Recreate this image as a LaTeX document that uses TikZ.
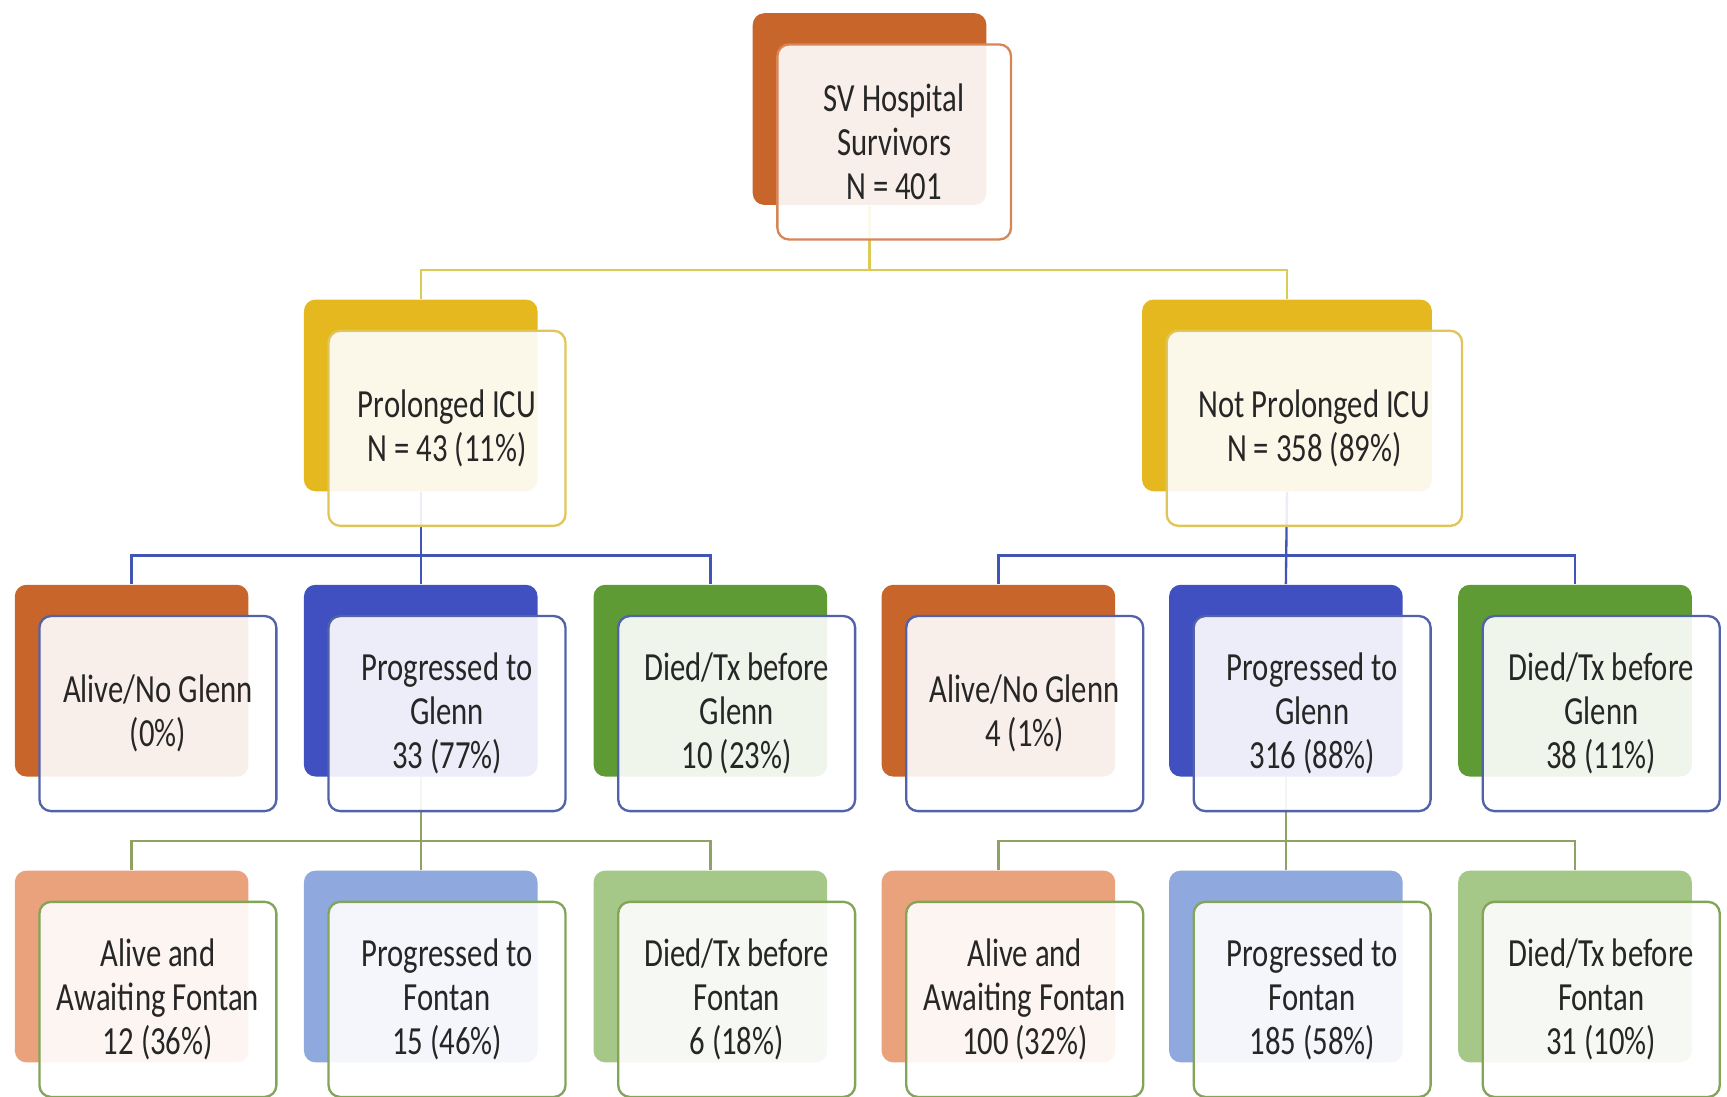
\documentclass[tikz,border=0pt]{standalone}
\usepackage{fontspec}
\setmainfont{Carlito}[FakeStretch=0.77]
\usepackage{tikz}
\usetikzlibrary{positioning, backgrounds, calc}
\definecolor{TextGray}{HTML}{262626}
\definecolor{RootOrange}{HTML}{C8652B}
\definecolor{RootLine}{HTML}{D68657}
\definecolor{GoldFill}{HTML}{E5B820}
\definecolor{GoldLine}{HTML}{E0C65A}
\definecolor{GoldLink}{HTML}{D9CB55}
\definecolor{GlennBlue}{HTML}{4050C0}
\definecolor{DiedGreen}{HTML}{5E9B35}
\definecolor{BlueLine}{HTML}{5262A8}
\definecolor{BlueLink}{HTML}{4055B5}
\definecolor{WaitOrange}{HTML}{E9A27C}
\definecolor{FontanBlue}{HTML}{8FA8DE}
\definecolor{DFontanGreen}{HTML}{A5C888}
\definecolor{GreenLine}{HTML}{82A558}
\definecolor{GreenLink}{HTML}{8EA262}

\tikzset{
  backbox/.style={rounded corners=3pt, inner sep=0pt,
    minimum width=2.12cm, minimum height=1.74cm},
  frontbox/.style={rounded corners=3pt, fill=white, fill opacity=0.9,
    text opacity=1, line width=0.6pt, inner sep=0pt,
    minimum width=2.15cm, minimum height=1.77cm, align=center,
    text=TextGray, font=\fontsize{10.3}{11.4}\selectfont},
  link/.style={line width=0.6pt}
}

\begin{document}
\begin{tikzpicture}[x=0.01cm, y=-0.01cm]
\useasboundingbox (0,0) rectangle (1568,996);

% root
\node[backbox, fill=RootOrange] (root-b) at (789.5,99) {};
\node[frontbox, draw=RootLine, minimum width=2.12cm,
      below right=0.28cm and 0.22cm of root-b.north west] (root)
      {SV Hospital\\Survivors\\N = 401};

% ICU split
\node[backbox, fill=GoldFill] (picu-b) at (382,359) {};
\node[frontbox, draw=GoldLine, below right=0.28cm and 0.22cm of picu-b.north west] (picu)
      {Prolonged ICU\\N = 43 (11\%)};
\node[backbox, fill=GoldFill, minimum width=2.63cm] (npicu-b) at (1168.5,359) {};
\node[frontbox, draw=GoldLine, minimum width=2.68cm,
      below right=0.28cm and 0.22cm of npicu-b.north west] (npicu)
      {Not Prolonged ICU\\N = 358 (89\%)};

% Glenn stage
\node[backbox, fill=RootOrange] (picu-alive-b) at (119.5,618) {};
\node[frontbox, draw=BlueLine, below right=0.28cm and 0.22cm of picu-alive-b.north west] (picu-alive)
      {Alive/No Glenn\\(0\%)};
\node[backbox, fill=GlennBlue] (picu-glenn-b) at (382,618) {};
\node[frontbox, draw=BlueLine, below right=0.28cm and 0.22cm of picu-glenn-b.north west] (picu-glenn)
      {Progressed to\\Glenn\\33 (77\%)};
\node[backbox, fill=DiedGreen] (picu-died-b) at (645,618) {};
\node[frontbox, draw=BlueLine, below right=0.28cm and 0.22cm of picu-died-b.north west] (picu-died)
      {Died/Tx before\\Glenn\\10 (23\%)};

\node[backbox, fill=RootOrange] (npicu-alive-b) at (906.5,618) {};
\node[frontbox, draw=BlueLine, below right=0.28cm and 0.22cm of npicu-alive-b.north west] (npicu-alive)
      {Alive/No Glenn\\4 (1\%)};
\node[backbox, fill=GlennBlue] (npicu-glenn-b) at (1167.5,618) {};
\node[frontbox, draw=BlueLine, below right=0.28cm and 0.22cm of npicu-glenn-b.north west] (npicu-glenn)
      {Progressed to\\Glenn\\316 (88\%)};
\node[backbox, fill=DiedGreen] (npicu-died-b) at (1430,618) {};
\node[frontbox, draw=BlueLine, below right=0.28cm and 0.22cm of npicu-died-b.north west] (npicu-died)
      {Died/Tx before\\Glenn\\38 (11\%)};

% Fontan stage
\node[backbox, fill=WaitOrange] (picu-wait-b) at (119.5,877.5) {};
\node[frontbox, draw=GreenLine, below right=0.28cm and 0.22cm of picu-wait-b.north west] (picu-wait)
      {Alive and\\Awaiting Fontan\\12 (36\%)};
\node[backbox, fill=FontanBlue] (picu-fontan-b) at (382,877.5) {};
\node[frontbox, draw=GreenLine, below right=0.28cm and 0.22cm of picu-fontan-b.north west] (picu-fontan)
      {Progressed to\\Fontan\\15 (46\%)};
\node[backbox, fill=DFontanGreen] (picu-dfontan-b) at (645,877.5) {};
\node[frontbox, draw=GreenLine, below right=0.28cm and 0.22cm of picu-dfontan-b.north west] (picu-dfontan)
      {Died/Tx before\\Fontan\\6 (18\%)};

\node[backbox, fill=WaitOrange] (npicu-wait-b) at (906.5,877.5) {};
\node[frontbox, draw=GreenLine, below right=0.28cm and 0.22cm of npicu-wait-b.north west] (npicu-wait)
      {Alive and\\Awaiting Fontan\\100 (32\%)};
\node[backbox, fill=FontanBlue] (npicu-fontan-b) at (1167.5,877.5) {};
\node[frontbox, draw=GreenLine, below right=0.28cm and 0.22cm of npicu-fontan-b.north west] (npicu-fontan)
      {Progressed to\\Fontan\\185 (58\%)};
\node[backbox, fill=DFontanGreen] (npicu-dfontan-b) at (1430,877.5) {};
\node[frontbox, draw=GreenLine, below right=0.28cm and 0.22cm of npicu-dfontan-b.north west] (npicu-dfontan)
      {Died/Tx before\\Fontan\\31 (10\%)};

% connectors behind the boxes
\begin{scope}[on background layer]
\coordinate (bus-root) at ($(root.south)!0.5!(picu-b.north)$);
\draw[link, GoldLink] (root-b.south) -- (root-b |- bus-root);
\draw[link, GoldLink] (picu-b.north) |- (root-b |- bus-root) -| (npicu-b.north);

\foreach \grp in {picu, npicu} {
  \coordinate (bus-\grp) at ($(\grp.south)!0.5!(\grp-glenn-b.north)$);
  \draw[link, BlueLink] (\grp-b.south) -- (\grp-glenn-b.north);
  \draw[link, BlueLink] (\grp-alive-b.north) |- (bus-\grp) -| (\grp-died-b.north);
  \coordinate (bus2-\grp) at ($(\grp-glenn.south)!0.5!(\grp-fontan-b.north)$);
  \draw[link, GreenLink] (\grp-glenn-b.south) -- (\grp-fontan-b.north);
  \draw[link, GreenLink] (\grp-wait-b.north) |- (bus2-\grp) -| (\grp-dfontan-b.north);
}
\end{scope}
\end{tikzpicture}
\end{document}
